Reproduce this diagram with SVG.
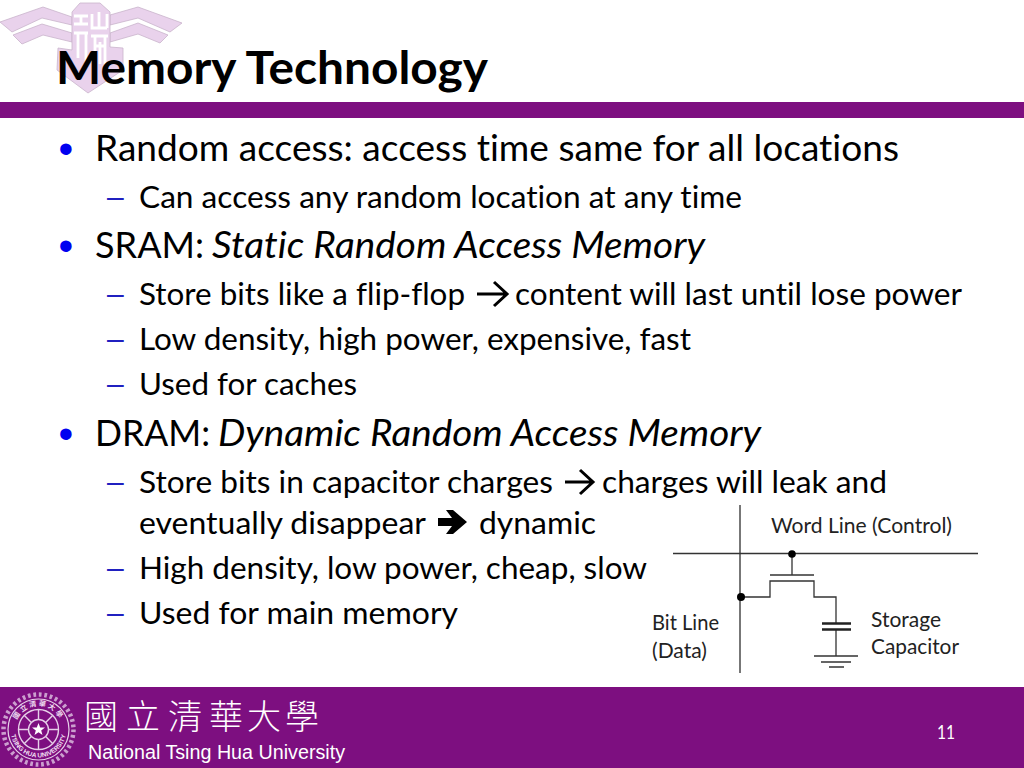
<svg xmlns="http://www.w3.org/2000/svg" width="1024" height="768" viewBox="0 0 1024 768">
<style>
text{font-family:Lato,"Liberation Sans",sans-serif;fill:#000;font-variant-ligatures:none}
.l1{font-size:36px}.l2{font-size:30.5px}.i{font-style:italic}
.blt{font-family:"Liberation Sans",sans-serif;font-size:42px;fill:#0000f0}
.dash{font-family:"Liberation Sans",sans-serif;font-size:30px;fill:#2020c0}
.lab{font-size:20.5px;fill:#222}
.wire{fill:none;stroke:#333;stroke-width:1.3}
.wire2{fill:none;stroke:#222;stroke-width:2.4}
.mark{fill:#e9d2ec;stroke:#c9b4cc;stroke-width:.8}
.arr{fill:none;stroke:#000;stroke-width:3}
.seal{fill:none;stroke:#e6cfe8}
.f{fill:#fff}
.ring{fill:#f0dff2;font-family:"Liberation Sans",sans-serif;font-size:6.500px;font-weight:700}
.ringc{fill:#f0dff2;font-family:"Noto Sans CJK TC","Noto Sans CJK SC",sans-serif;font-size:7px;font-weight:700}
</style>
<defs>
<path id="arcB" d="M10.500 729.500A28 28 0 0 0 66.500 729.500"/>
<path id="arcT" d="M15 729.500A23.500 23.500 0 0 1 62 729.500"/>
</defs>
<rect width="1024" height="768" fill="#fff"/>
<g id="crest">
<polygon class="mark" points="0,22 43,7 72,17 72,25 42,18 12,32"/>
<polygon class="mark" points="13,35 42,24 72,33 72,42 43,35 22,44"/>
<polygon class="mark" points="110,15 138,7 182,23 170,32 138,18 110,25"/>
<polygon class="mark" points="110,33 138,23 168,35 160,43 138,34 110,42"/>
<polygon class="mark" points="72,12 80,3 100,3 110,12 110,47 123,48 123,70 88,93 57,70 58,48 72,50"/>
<path d="M74 16H88M81 16V24M74 24H88M74 33H88M78 33V58M86 33V62M92 14V28H107M99 12V28M107 14V28M91 36H108M95 36V64M100 42V64M105 36V64M95 46H105" fill="none" stroke="#fff" stroke-width="2.800"/>
</g>
<g id="header">
<rect y="102" width="1024" height="16" fill="#7d0f80"/>
<text x="56" y="84" font-size="46" font-weight="700" textLength="432" lengthAdjust="spacingAndGlyphs">Memory Technology</text>
</g>
<g id="body">
<text class="blt" x="58.500" y="163">•</text>
<text class="l1" x="95" y="161" textLength="804" lengthAdjust="spacingAndGlyphs">Random access: access time same for all locations</text>
<text class="dash" x="107" y="206.500">–</text>
<text class="l2" x="139" y="208" textLength="603" lengthAdjust="spacingAndGlyphs">Can access any random location at any time</text>
<text class="blt" x="58.500" y="260">•</text>
<text class="l1" x="95" y="258" textLength="109" lengthAdjust="spacingAndGlyphs">SRAM:</text>
<text class="l1 i" x="212" y="258" textLength="493" lengthAdjust="spacingAndGlyphs">Static Random Access Memory</text>
<text class="dash" x="107" y="303.500">–</text>
<text class="l2" x="139" y="305" textLength="326" lengthAdjust="spacingAndGlyphs">Store bits like a flip-flop</text>
<path class="arr" d="M477 294H506M494 282L507 294L494 306"/>
<text class="l2" x="515" y="305" textLength="447" lengthAdjust="spacingAndGlyphs">content will last until lose power</text>
<text class="dash" x="107" y="348.500">–</text>
<text class="l2" x="139" y="350" textLength="552" lengthAdjust="spacingAndGlyphs">Low density, high power, expensive, fast</text>
<text class="dash" x="107" y="393.500">–</text>
<text class="l2" x="139" y="395" textLength="218" lengthAdjust="spacingAndGlyphs">Used for caches</text>
<text class="blt" x="58.500" y="448">•</text>
<text class="l1" x="95" y="446" textLength="115" lengthAdjust="spacingAndGlyphs">DRAM:</text>
<text class="l1 i" x="218" y="446" textLength="543" lengthAdjust="spacingAndGlyphs">Dynamic Random Access Memory</text>
<text class="dash" x="107" y="491.500">–</text>
<text class="l2" x="139" y="493" textLength="414" lengthAdjust="spacingAndGlyphs">Store bits in capacitor charges</text>
<path class="arr" d="M565 482H592M580 470L593 482L580 494"/>
<text class="l2" x="602" y="493" textLength="285" lengthAdjust="spacingAndGlyphs">charges will leak and</text>
<text class="l2" x="139" y="534" textLength="287" lengthAdjust="spacingAndGlyphs">eventually disappear</text>
<path d="M438 518H452L446 510H453L467 522L453 534H446L452 526H438Z" fill="#000"/>
<text class="l2" x="479" y="534" textLength="117" lengthAdjust="spacingAndGlyphs">dynamic</text>
<text class="dash" x="107" y="577.500">–</text>
<text class="l2" x="139" y="579" textLength="508" lengthAdjust="spacingAndGlyphs">High density, low power, cheap, slow</text>
<text class="dash" x="107" y="622.500">–</text>
<text class="l2" x="139" y="624" textLength="319" lengthAdjust="spacingAndGlyphs">Used for main memory</text>
</g>
<g id="connectors">
<path d="M740 505V673" fill="none" stroke="#555" stroke-width="1.6"/>
<path class="wire" d="M673 553.500H978"/>
<path class="wire" d="M792 554V575M741 597H770V581H814V597H836V623M836 630V656"/>
<path class="wire" d="M770 575H814"/>
<path class="wire2" d="M822 623.500H851M822 629.500H851"/>
<path class="wire" d="M814 656H858M821 662H851M829 667H844"/>
<circle cx="792" cy="554" r="3.800" fill="#000"/>
<circle cx="741" cy="597" r="4" fill="#000"/>
</g>
<g id="word-line"><text class="lab" x="771" y="533" textLength="181" lengthAdjust="spacingAndGlyphs">Word Line (Control)</text></g>
<g id="bit-line"><text class="lab" x="652" y="630" textLength="67" lengthAdjust="spacingAndGlyphs">Bit Line</text><text class="lab" x="652" y="658" textLength="55" lengthAdjust="spacingAndGlyphs">(Data)</text></g>
<g id="storage-capacitor"><text class="lab" x="871" y="627" textLength="70" lengthAdjust="spacingAndGlyphs">Storage</text><text class="lab" x="871" y="654" textLength="88" lengthAdjust="spacingAndGlyphs">Capacitor</text></g>
<g id="footer">
<rect y="687" width="1024" height="81" fill="#7d0f80"/>
<g id="seal">
<circle class="seal" cx="38.500" cy="729.500" r="35" stroke-width="4.500" stroke-dasharray="2.750 2.750" opacity=".75"/>
<circle class="seal" cx="38.500" cy="729.500" r="30.500" stroke-width="1.200"/>
<circle class="seal" cx="38.500" cy="729.500" r="20" stroke-width="1.400"/>
<circle class="seal" cx="38.500" cy="729.500" r="10" stroke-width="1.400"/>
<path class="seal" stroke-width="1.400" d="M38.500 709.500V719.500M38.500 739.500V749.500M18.500 729.500H28.500M48.500 729.500H58.500M24.400 715.400L31.400 722.400M45.600 736.600L52.600 743.600M24.400 743.600L31.400 736.600M45.600 722.400L52.600 715.400"/>
<polygon class="f" points="38.500,723 40.200,727.500 45,727.500 41.200,730.500 42.500,735 38.500,732.300 34.500,735 35.800,730.500 32,727.500 36.800,727.500"/>
<text class="ring"><textPath href="#arcB" startOffset="50%" text-anchor="middle">TSING HUA UNIVERSITY</textPath></text>
<text class="ringc"><textPath href="#arcT" startOffset="50%" text-anchor="middle" letter-spacing="2">國立清華大學</textPath></text>
</g>
<text class="f" y="729" font-size="34" font-weight="300" style="font-family:'Noto Sans CJK TC','Noto Sans CJK SC',sans-serif" x="84 126 168 209 247 285">國立清華大學</text>
<text class="f" x="88" y="759" font-size="20" textLength="257" lengthAdjust="spacingAndGlyphs" style="font-family:'Liberation Sans',sans-serif">National Tsing Hua University</text>
<text class="f" x="937" y="739" font-size="18.500" textLength="18" lengthAdjust="spacingAndGlyphs">11</text>
</g>
</svg>
